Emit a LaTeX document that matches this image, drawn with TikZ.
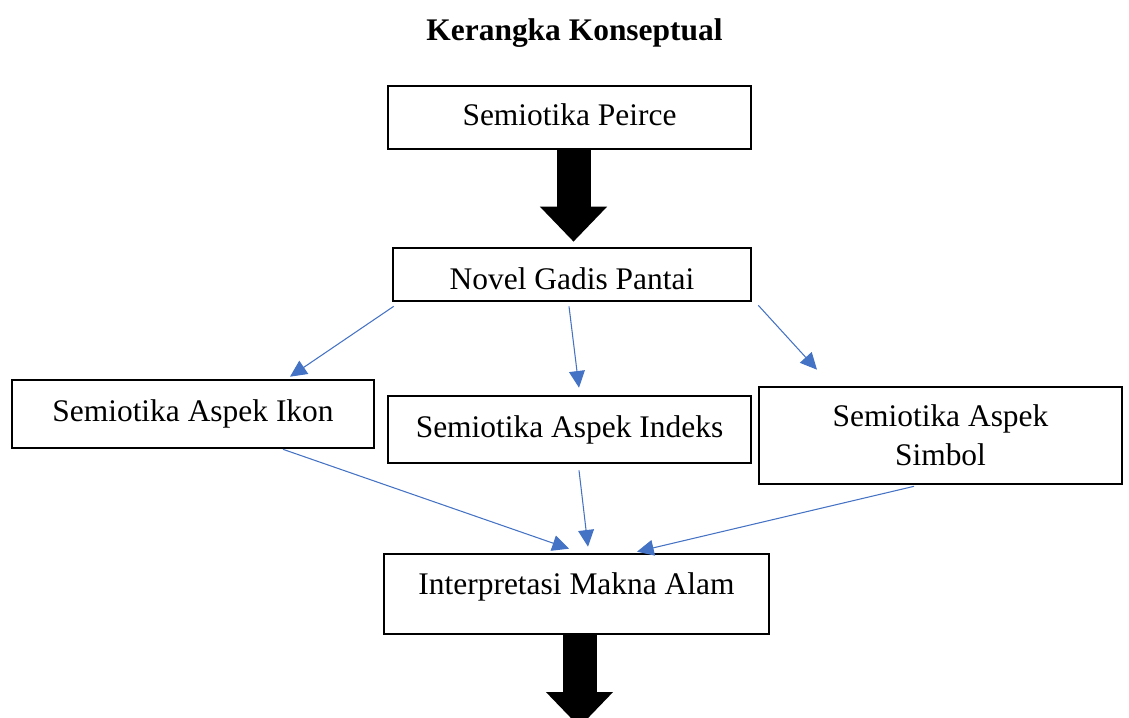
\documentclass[tikz,border=0pt]{standalone}
\usepackage{fontspec}
\setmainfont{Liberation Serif}
\usetikzlibrary{arrows.meta}
\usetikzlibrary{calc}
\definecolor{wordblue}{HTML}{4472C4}
\tikzset{kotak/.style={draw,rectangle,line width=1.5pt,inner sep=2pt,font=\fontsize{17.9}{22}\selectfont}}
\tikzset{satu/.style={text height=12.5pt,text depth=3.9pt}}
\tikzset{judul/.style={anchor=base,font=\fontsize{17.9}{22}\selectfont\bfseries}}
\tikzset{panah/.style={draw=wordblue,line width=0.6pt,-{Triangle[length=9.5pt,width=9pt]}}}
\tikzset{blok/.style={line width=0.68cm,-{Triangle[length=0.7cm,width=1.3cm]}}}

\begin{document}
\begin{tikzpicture}[x=0.02cm, y=-0.02cm]
\useasboundingbox (0,0) rectangle (1129,717);
\node [judul] (judul) at (574.5,40) {Kerangka Konseptual};

\node [kotak, satu, text height=13.5pt, minimum width=7.26cm, minimum
height=1.26cm] (peirce) at (569.5,117.5) {Semiotika Peirce};
\node [kotak, satu, text height=21.5pt, minimum width=7.16cm, minimum
height=1.06cm] (novel) at (572,274.5) {Novel Gadis Pantai};

\node [kotak, satu, minimum width=7.24cm, minimum height=1.36cm] (ikon)
at (193,414) {Semiotika Aspek Ikon};
\node [kotak, satu, minimum width=7.26cm, minimum height=1.34cm] (indeks)
at (569.5,429.5) {Semiotika Aspek Indeks};
\node [kotak, align=center, minimum width=7.26cm, minimum height=1.94cm]
(simbol) at (940.5,435.5) {Semiotika Aspek\\Simbol};

\node [kotak, satu, text depth=11.4pt, minimum width=7.7cm, minimum
height=1.6cm] (interp) at (576.5,594) {Interpretasi Makna Alam};
\coordinate (keluar) at (579.5,727);

% panah besar
\draw [blok] ([shift={(4,0)}]peirce.south) -- ([shift={(1.5,-5)}]novel.north);
\draw [blok] ([shift={(3,0)}]interp.south) -- (keluar);

% panah biru
\draw [panah] ([shift={(2,4)}]novel.south west) -- ([shift={(97,-2)}]ikon.north);
\draw [panah] ([shift={(-3,4)}]novel.south) -- ([shift={(9.5,-7)}]indeks.north);
\draw [panah] ([shift={(6,3)}]novel.south east) -- ([shift={(-123.5,-16)}]simbol.north);

\draw [panah] ([shift={(90,0)}]ikon.south) -- ([shift={(-7.5,-4)}]interp.north);
\draw [panah] ([shift={(9.5,6)}]indeks.south) -- ([shift={(11.5,-6)}]interp.north);
\draw [panah] ([shift={(-26.5,1)}]simbol.south) -- ([shift={(60.5,-1)}]interp.north);
\end{tikzpicture}
\end{document}
